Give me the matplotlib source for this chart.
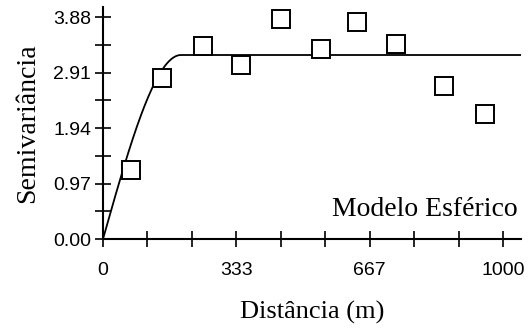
import numpy as np
import matplotlib
matplotlib.use("Agg")
import matplotlib.pyplot as plt
from matplotlib.ticker import FixedLocator

# experimental semivariogram (distance in m, semivariance)
dist = [71, 147, 250, 344, 444, 546, 636, 733, 852, 955]
gamma = [1.21, 2.82, 3.38, 3.04, 3.85, 3.33, 3.79, 3.41, 2.68, 2.18]

# fitted spherical model
nugget, sill, rng = 0.0, 3.22, 195.0

yticks = [0.00, 0.97, 1.94, 2.91, 3.88]
xticks = [0, 333.3, 666.7, 1000]
xtick_labels = ["0", "333", "667", "1000"]

SERIF = "Liberation Serif"
SANS = "Liberation Sans"

h = np.linspace(0, 1045, 600)
t = np.clip(h / rng, 0, 1)
model = nugget + (sill - nugget) * (1.5 * t - 0.5 * t ** 3)

fig = plt.figure(figsize=(5.28, 3.31), dpi=100)
ax = fig.add_axes([103 / 528, 92 / 331, 418 / 528, 232 / 331])

ax.plot(h, model, color="black", linewidth=1.3)
ax.plot(dist, gamma, linestyle="none", marker="s", markersize=12.5,
        markerfacecolor="white", markeredgecolor="black", markeredgewidth=1.4)

ax.set_xlim(0, 1045)
ax.set_ylim(0, 4.06)
for s in ("top", "right"):
    ax.spines[s].set_visible(False)
for s in ("left", "bottom"):
    ax.spines[s].set_linewidth(1.5)

ax.xaxis.set_major_locator(FixedLocator(xticks))
ax.set_xticklabels(xtick_labels)
ax.xaxis.set_minor_locator(FixedLocator([111.1 * i for i in range(1, 9) if i % 3]))
ax.yaxis.set_major_locator(FixedLocator(yticks))
ax.set_yticklabels([f"{v:.2f}" for v in yticks])
ax.yaxis.set_minor_locator(FixedLocator([0.485 + 0.97 * i for i in range(4)]))

ax.tick_params(which="both", direction="inout", length=11, width=1.2, color="black")
ax.tick_params(axis="x", which="major", pad=11, labelsize=14)
ax.tick_params(axis="y", which="major", pad=3, labelsize=14)
for lab in ax.get_xticklabels() + ax.get_yticklabels():
    lab.set_fontfamily(SANS)

ax.text(0.5, -0.315, "Distância (m)", transform=ax.transAxes, ha="center",
        va="center", fontsize=19, family=SERIF)
ax.text(-0.18, 0.5, "Semivariância", transform=ax.transAxes, ha="center",
        va="center", rotation=90, fontsize=20, family=SERIF)
ax.text(1037, 0.41, "Modelo Esférico", ha="right", va="baseline",
        fontsize=20, family=SERIF)

fig.savefig("out.png", dpi=100)
